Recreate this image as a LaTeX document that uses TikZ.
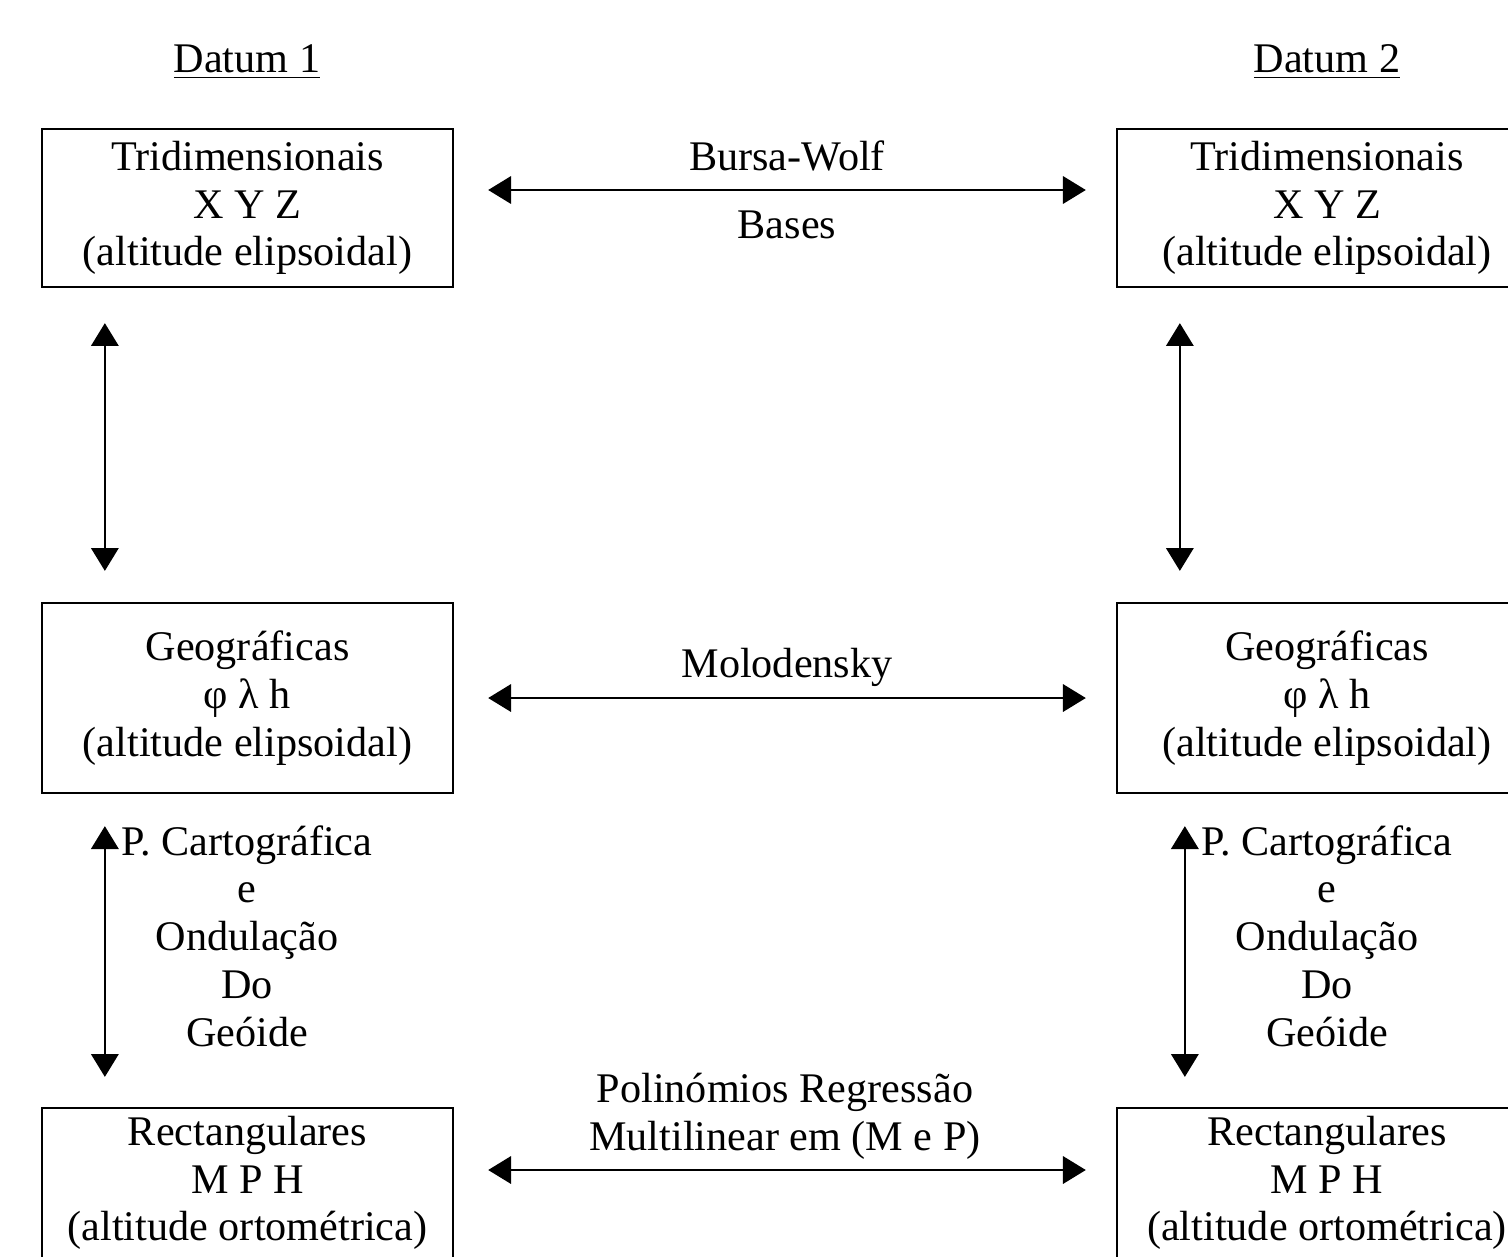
\documentclass[tikz,border=0pt]{standalone}
\usepackage{fontspec}
\setmainfont{Liberation Serif}
\usetikzlibrary{positioning,arrows.meta,calc}

\begin{document}
\begin{tikzpicture}[x=0.01cm,y=-0.01cm,font=\fontsize{12}{13.6}\selectfont,
    caixa/.style={draw=black,line width=0.6pt,minimum width=4.11cm,inner sep=0pt,align=center},
    seta/.style={{Triangle[length=6.5pt,width=7.8pt]}-{Triangle[length=6.5pt,width=7.8pt]},line width=0.6pt},
    rotulo/.style={align=center,inner sep=0pt}]
      \useasboundingbox (0,0) rectangle (1508,1256);
      % datum 1
      \node[rotulo,anchor=base] (d1) at (247,72) {\underline{Datum 1}};
      \node[caixa,minimum height=1.58cm] (tl) at (247.5,208) {Tridimensionais\\X Y Z\\(altitude elipsoidal)};
      \node[caixa,minimum height=1.90cm] (ml) at (247.5,698) {Geográficas\\φ λ h\\(altitude elipsoidal)};
      \node[caixa,minimum height=1.50cm] (bl) at (247.5,1183) {Rectangulares\\M P H\\(altitude ortométrica)};
      % datum 2
      \node[rotulo,anchor=base] (d2) at (1327,72) {\underline{Datum 2}};
      \node[caixa,minimum width=4.20cm,minimum height=1.58cm] (tr) at (1327,208) {Tridimensionais\\X Y Z\\(altitude elipsoidal)};
      \node[caixa,minimum width=4.20cm,minimum height=1.90cm] (mr) at (1327,698) {Geográficas\\φ λ h\\(altitude elipsoidal)};
      \node[caixa,minimum width=4.20cm,minimum height=1.50cm] (br) at (1327,1183) {Rectangulares\\M P H\\(altitude ortométrica)};

      % transformacoes entre datums
      \node[rotulo,anchor=base] (bw) at (787,170) {Bursa-Wolf};
      \node[rotulo,anchor=base] (bases) at (787,238) {Bases};
      \node[rotulo,anchor=base] (molo) at (787,677) {Molodensky};
      \node[rotulo] (poli) at (785,1116) {Polinómios Regressão\\Multilinear em (M e P)};
      \node[rotulo] (pc1) at (247,936) {P. Cartográfica\\e\\Ondulação\\Do\\Geóide};
      \node[rotulo] (pc2) at (1327,936) {P. Cartográfica\\e\\Ondulação\\Do\\Geóide};

      \draw[seta,shorten <=0.34cm,shorten >=0.30cm] ([yshift=0.18cm]tl.east) -- ([yshift=0.18cm]tr.west);
      \draw[seta,shorten <=0.34cm,shorten >=0.30cm] (ml.east) -- (mr.west);
      \draw[seta,shorten <=0.34cm,shorten >=0.30cm] ([yshift=0.13cm]bl.east) -- ([yshift=0.13cm]br.west);

      \draw[seta,shorten <=0.35cm,shorten >=0.31cm] ([xshift=0.64cm]tl.south west) -- ([xshift=0.64cm]ml.north west);
      \draw[seta,shorten <=0.35cm,shorten >=0.31cm] ([xshift=0.64cm]tr.south west) -- ([xshift=0.64cm]mr.north west);
      \draw[seta,shorten <=0.32cm,shorten >=0.30cm] ([xshift=0.64cm]ml.south west) -- ([xshift=0.64cm]bl.north west);
      \draw[seta,shorten <=0.32cm,shorten >=0.30cm] ([xshift=0.69cm]mr.south west) -- ([xshift=0.69cm]br.north west);
\end{tikzpicture}
\end{document}
